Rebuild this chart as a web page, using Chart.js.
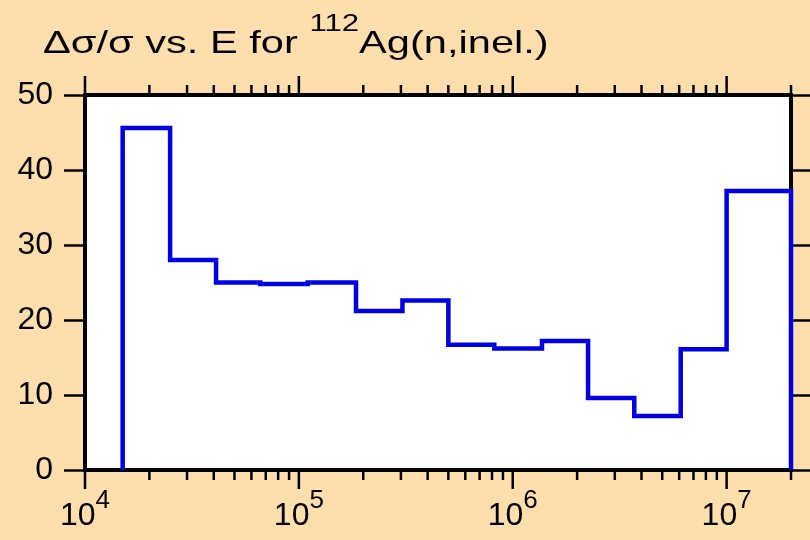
<!DOCTYPE html>
<html>
<head>
<meta charset="utf-8">
<script src="https://cdn.jsdelivr.net/npm/chart.js@4.4.0/dist/chart.umd.min.js"></script>
<style>
  html, body { margin: 0; padding: 0; background: #FEDEAC; }
</style>
</head>
<body>
<canvas id="errChart" width="810" height="540"></canvas>
<script>
// границы энергетических групп (эВ) и относительная погрешность в группе (%)
const binEdges = [1.5e4, 2.5e4, 4.1e4, 6.6e4, 1.1e5, 1.85e5, 3.05e5, 5.0e5, 8.2e5, 1.37e6, 2.25e6, 3.7e6, 6.1e6, 1.0e7, 2.0e7];
const relErr = [45.6, 28.0, 25.0, 24.8, 25.0, 21.2, 22.6, 16.7, 16.2, 17.2, 9.6, 7.2, 16.1, 37.2];

// подписи осей
const yTicks = [0, 10, 20, 30, 40, 50];
const xDecades = [1e4, 1e5, 1e6, 1e7];
const xExponents = ['4', '5', '6', '7'];

const FONT = 'Arial, "Liberation Sans", Helvetica, sans-serif';
const BG = '#FEDEAC';

// ступенчатая гистограмма: точка на левой границе каждой группы
const points = [{ x: binEdges[0], y: 0 }];
relErr.forEach((v, i) => points.push({ x: binEdges[i], y: v }));
points.push({ x: binEdges[binEdges.length - 1], y: 0 });

// мелкие деления 2..9 в каждой декаде, до 2e7
const xMinor = [];
xDecades.forEach(d => {
    for (let k = 2; k <= 9; k++) {
        if (k * d <= 2e7) xMinor.push(k * d);
    }
});

// фон, рамка, деления и подписи оси X, заголовок
const framePlugin = {
    id: 'frame',
    beforeDraw(chart) {
        const { ctx, chartArea: a } = chart;
        ctx.save();
        ctx.fillStyle = BG;
        ctx.fillRect(0, 0, chart.width, chart.height);
        ctx.fillStyle = '#fff';
        ctx.fillRect(a.left, a.top, a.right - a.left, a.bottom - a.top);
        ctx.restore();
    },
    beforeDatasetsDraw(chart) {
        const { ctx, chartArea: a } = chart;
        const xs = chart.scales.x;
        ctx.save();
        ctx.strokeStyle = '#000';
        ctx.lineWidth = 2.5;
        const tick = (v, len) => {
            const px = xs.getPixelForValue(v);
            ctx.beginPath();
            ctx.moveTo(px, a.bottom);
            ctx.lineTo(px, a.bottom + len);
            ctx.moveTo(px, a.top);
            ctx.lineTo(px, a.top - len);
            ctx.stroke();
        };
        xDecades.forEach(v => tick(v, 19));
        xMinor.forEach(v => tick(v, 10));

        ctx.lineWidth = 4;
        ctx.strokeRect(a.left, a.top, a.right - a.left, a.bottom - a.top);

        // подписи 10^n
        ctx.fillStyle = '#000';
        ctx.textBaseline = 'alphabetic';
        ctx.textAlign = 'left';
        xDecades.forEach((v, i) => {
            const px = xs.getPixelForValue(v);
            ctx.font = '32px ' + FONT;
            const wBase = ctx.measureText('10').width;
            ctx.font = '26px ' + FONT;
            const wExp = ctx.measureText(xExponents[i]).width;
            const x0 = px - (wBase + wExp) / 2;
            ctx.font = '32px ' + FONT;
            ctx.fillText('10', x0, 525);
            ctx.font = '26px ' + FONT;
            ctx.fillText(xExponents[i], x0 + wBase, 508);
        });

        // заголовок (в оригинале шрифт растянут по горизонтали)
        ctx.translate(43, 0);
        ctx.scale(1.3, 1);
        let x = 0;
        ctx.font = '32px ' + FONT;
        const part1 = 'Δσ/σ vs. E for ';
        ctx.fillText(part1, x, 53);
        x += ctx.measureText(part1).width;
        ctx.font = '24px ' + FONT;
        ctx.fillText('112', x, 31);
        x += ctx.measureText('112').width;
        ctx.font = '32px ' + FONT;
        ctx.fillText('Ag(n,inel.)', x, 53);
        ctx.restore();
    }
};

const gridOpts = {
    drawOnChartArea: false,
    drawTicks: true,
    tickLength: 21,
    tickColor: '#000',
    tickWidth: 2.5
};

new Chart(document.getElementById('errChart'), {
    type: 'line',
    data: {
        datasets: [{
            label: 'Δσ/σ',
            data: points,
            stepped: 'before',
            borderColor: '#0000E6',
            borderWidth: 4.5,
            borderJoinStyle: 'miter',
            pointRadius: 0,
            fill: false,
            clip: false
        }]
    },
    options: {
        responsive: false,
        animation: false,
        layout: { padding: { top: 95, bottom: 70, left: 0, right: 0 } },
        plugins: {
            legend: { display: false },
            tooltip: { enabled: false },
            title: { display: false }
        },
        scales: {
            x: {
                type: 'logarithmic',
                min: 1e4,
                max: 2e7,
                display: false
            },
            y: {
                position: 'left',
                min: 0,
                max: 50,
                afterFit: s => { s.width = 85; },
                afterBuildTicks: s => { s.ticks = yTicks.map(v => ({ value: v })); },
                ticks: {
                    color: '#000',
                    font: { size: 32, family: FONT },
                    padding: 11
                },
                grid: gridOpts,
                border: { display: false }
            },
            y2: {
                position: 'right',
                min: 0,
                max: 50,
                afterFit: s => { s.width = 19; },
                afterBuildTicks: s => { s.ticks = yTicks.map(v => ({ value: v })); },
                ticks: { display: false },
                grid: gridOpts,
                border: { display: false }
            }
        }
    },
    plugins: [framePlugin]
});
</script>
</body>
</html>
